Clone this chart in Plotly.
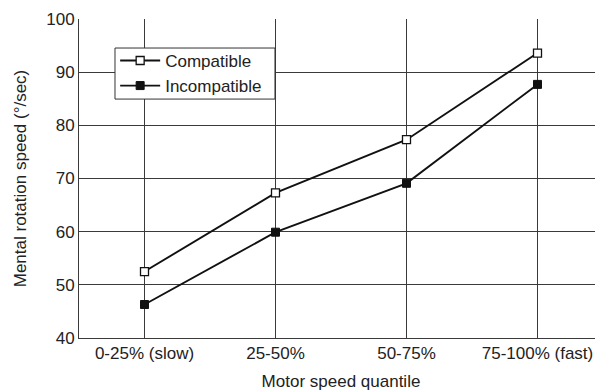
import plotly.graph_objects as go

categories = ["0-25% (slow)", "25-50%", "50-75%", "75-100% (fast)"]
compatible = [52.5, 67.3, 77.3, 93.6]
incompatible = [46.3, 59.9, 69.1, 87.7]
y_ticks = [40, 50, 60, 70, 80, 90, 100]

FONT = "Liberation Sans, Arial, sans-serif"
INK = "#222222"
GRID = "#3a3a3a"

fig = go.Figure()
fig.add_trace(go.Scatter(
    x=list(range(len(categories))), y=compatible, name="Compatible",
    mode="lines+markers",
    line=dict(color="#111111", width=1.9),
    marker=dict(symbol="square", size=8, color="white",
                line=dict(color="#111111", width=1.3)),
))
fig.add_trace(go.Scatter(
    x=list(range(len(categories))), y=incompatible, name="Incompatible",
    mode="lines+markers",
    line=dict(color="#111111", width=1.9),
    marker=dict(symbol="square", size=8, color="#111111",
                line=dict(color="#111111", width=1)),
))

# Legend frame (white box with a thin border), drawn under the legend entries
fig.add_shape(type="rect", xref="paper", yref="paper",
              x0=0.0687, x1=0.374, y0=0.749, y1=0.909,
              fillcolor="white", line=dict(color="#333333", width=1),
              layer="above")

# The page body has an 8px default margin; the figure is sized to fill the rest.
fig.update_layout(
    width=595, height=383,
    margin=dict(l=71, r=0, t=11, b=53),
    paper_bgcolor="white", plot_bgcolor="white",
    font=dict(family=FONT, size=17, color=INK),
    showlegend=True,
    legend=dict(
        x=0.069, y=0.925, xanchor="left", yanchor="top",
        bgcolor="rgba(0,0,0,0)", borderwidth=0,
        font=dict(family=FONT, size=17, color=INK),
        itemwidth=40, tracegroupgap=0,
    ),
    xaxis=dict(
        range=[-0.5, 3.5], automargin=False,
        tickmode="array", tickvals=list(range(len(categories))), ticktext=categories,
        showgrid=True, gridcolor=GRID, gridwidth=1,
        showline=True, linecolor=GRID, linewidth=1,
        zeroline=False, ticks="",
        title=dict(text="Motor speed quantile",
                   font=dict(family=FONT, size=17, color=INK)),
        tickfont=dict(family=FONT, size=17, color=INK),
    ),
    yaxis=dict(
        range=[40, 100], automargin=False,
        tickmode="array", tickvals=y_ticks,
        showgrid=True, gridcolor=GRID, gridwidth=1,
        showline=True, linecolor=GRID, linewidth=1,
        zeroline=False, ticks="",
        title=dict(text="Mental rotation speed (°/sec)",
                   font=dict(family=FONT, size=17, color=INK)),
        tickfont=dict(family=FONT, size=17, color=INK),
    ),
)

fig.write_html("out.html")
